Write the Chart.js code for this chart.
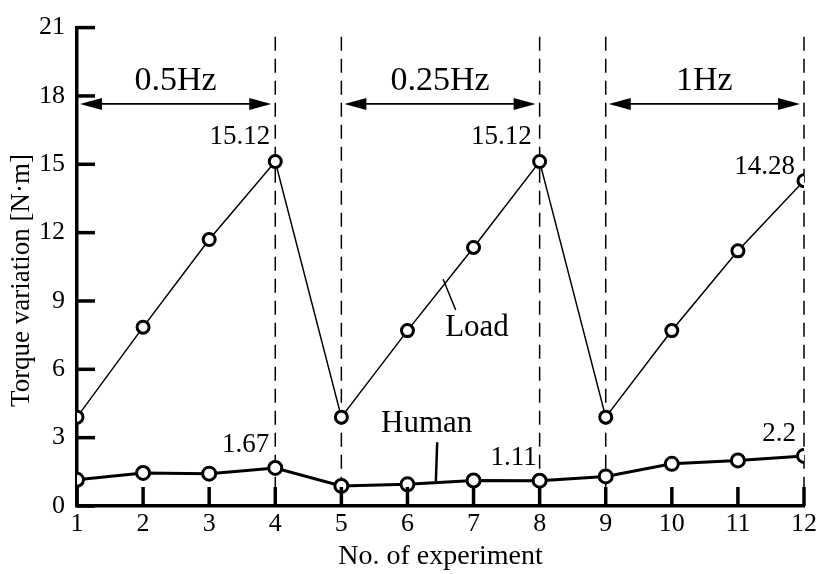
<!DOCTYPE html>
<html>
<head>
<meta charset="utf-8">
<script src="https://cdn.jsdelivr.net/npm/chart.js@4.4.1/dist/chart.umd.min.js"></script>
<style>
  body { margin: 0; background: #fff; }
  #wrap { width: 820px; height: 574px; }
</style>
</head>
<body>
<div id="wrap"><canvas id="graficoTorque"></canvas></div>
<script>
// Dados
const experimentos = [1, 2, 3, 4, 5, 6, 7, 8, 9, 10, 11, 12];
const torqueCarga = [3.9, 7.85, 11.7, 15.12, 3.9, 7.7, 11.35, 15.12, 3.9, 7.7, 11.2, 14.28];
const torqueHumano = [1.15, 1.45, 1.42, 1.67, 0.88, 0.95, 1.12, 1.11, 1.3, 1.85, 2.0, 2.2];
const ticksY = [0, 3, 6, 9, 12, 15, 18, 21];
const divisorias = [4, 5, 8, 9, 12];
const faixasInicio = [1, 5, 9];
const faixasFim = [4, 8, 12];
const faixasTexto = ['0.5Hz', '0.25Hz', '1Hz'];
const indicesRotulo = [3, 7, 11]; // pontos com valor escrito

const FONTE = "'Liberation Serif', 'Times New Roman', serif";

const anotacoes = {
    id: 'anotacoes',
    beforeDatasetsDraw(chart) {
        const { ctx, scales: { x, y } } = chart;
        // linhas tracejadas verticais
        ctx.save();
        ctx.strokeStyle = '#000';
        ctx.lineWidth = 1.5;
        ctx.setLineDash([14, 8]);
        divisorias.forEach(d => {
            const px = x.getPixelForValue(d);
            ctx.beginPath();
            ctx.moveTo(px, y.getPixelForValue(20.6));
            ctx.lineTo(px, y.getPixelForValue(0));
            ctx.stroke();
        });
        ctx.restore();
    },
    afterDraw(chart) {
        const { ctx, scales: { x, y } } = chart;
        const x0 = x.getPixelForValue(1);
        const y0 = y.getPixelForValue(0);
        ctx.save();
        ctx.strokeStyle = '#000';
        ctx.fillStyle = '#000';
        // título do eixo Y (desenhado à mão para acertar a posição)
        ctx.save();
        ctx.translate(22, y.getPixelForValue(9.9));
        ctx.rotate(-Math.PI / 2);
        ctx.font = '27px ' + FONTE;
        ctx.textAlign = 'center';
        ctx.textBaseline = 'middle';
        ctx.fillText('Torque variation [N·m]', 0, 0);
        ctx.restore();
        // ticks para dentro
        ctx.lineWidth = 3.5;
        ticksY.forEach(v => {
            const py = y.getPixelForValue(v);
            ctx.beginPath(); ctx.moveTo(x0, py); ctx.lineTo(x0 + 18, py); ctx.stroke();
        });
        experimentos.forEach(v => {
            const px = x.getPixelForValue(v);
            ctx.beginPath(); ctx.moveTo(px, y0); ctx.lineTo(px, y0 - 19); ctx.stroke();
        });
        // setas de frequência
        const ya = y.getPixelForValue(17.65);
        const yt = y.getPixelForValue(18.65);
        ctx.lineWidth = 1.8;
        ctx.font = '34px ' + FONTE;
        ctx.textAlign = 'center';
        ctx.textBaseline = 'middle';
        faixasTexto.forEach((texto, i) => {
            const a = x.getPixelForValue(faixasInicio[i]) + 3;
            const b = x.getPixelForValue(faixasFim[i]) - 4;
            ctx.beginPath(); ctx.moveTo(a + 10, ya); ctx.lineTo(b - 10, ya); ctx.stroke();
            ctx.beginPath(); ctx.moveTo(a, ya); ctx.lineTo(a + 22, ya - 6); ctx.lineTo(a + 22, ya + 6); ctx.closePath(); ctx.fill();
            ctx.beginPath(); ctx.moveTo(b, ya); ctx.lineTo(b - 22, ya - 6); ctx.lineTo(b - 22, ya + 6); ctx.closePath(); ctx.fill();
            ctx.fillText(texto, (a + b) / 2, yt);
        });
        // valores nos pontos
        ctx.font = '27px ' + FONTE;
        ctx.textAlign = 'right';
        const dyCarga = [-25, -25, -14];
        const dxCarga = [-5, -8, -9];
        const dyHumano = [-23, -23, -22];
        const dxHumano = [-6, -3, -8];
        indicesRotulo.forEach((idx, k) => {
            const px = x.getPixelForValue(experimentos[idx]);
            ctx.fillText(String(torqueCarga[idx]), px + dxCarga[k], y.getPixelForValue(torqueCarga[idx]) + dyCarga[k]);
            ctx.fillText(String(torqueHumano[idx]), px + dxHumano[k], y.getPixelForValue(torqueHumano[idx]) + dyHumano[k]);
        });
        // nomes das séries com linha de chamada
        ctx.font = '31px ' + FONTE;
        ctx.textAlign = 'left';
        ctx.fillText('Load', x.getPixelForValue(6.57), y.getPixelForValue(7.8));
        ctx.textAlign = 'center';
        ctx.fillText('Human', x.getPixelForValue(6.29), y.getPixelForValue(3.6));
        ctx.lineWidth = 1.5;
        ctx.beginPath();
        ctx.moveTo(x.getPixelForValue(6.54), y.getPixelForValue(9.95));
        ctx.lineTo(x.getPixelForValue(6.73), y.getPixelForValue(8.6));
        ctx.stroke();
        ctx.lineWidth = 2.5;
        ctx.beginPath();
        ctx.moveTo(x.getPixelForValue(6.45), y.getPixelForValue(2.8));
        ctx.lineTo(x.getPixelForValue(6.43), y.getPixelForValue(1.1));
        ctx.stroke();
        ctx.restore();
    }
};

const ctx = document.getElementById('graficoTorque').getContext('2d');
new Chart(ctx, {
    type: 'line',
    data: {
        datasets: [
            {
                label: 'Load',
                data: experimentos.map((e, i) => ({ x: e, y: torqueCarga[i] })),
                borderColor: '#000',
                borderWidth: 1.5,
                pointRadius: 6,
                pointBorderWidth: 3,
                pointBackgroundColor: '#fff',
                pointBorderColor: '#000',
                tension: 0
            },
            {
                label: 'Human',
                data: experimentos.map((e, i) => ({ x: e, y: torqueHumano[i] })),
                borderColor: '#000',
                borderWidth: 3,
                pointRadius: 6.5,
                pointBorderWidth: 3,
                pointBackgroundColor: '#fff',
                pointBorderColor: '#000',
                tension: 0
            }
        ]
    },
    options: {
        responsive: true,
        maintainAspectRatio: false,
        animation: false,
        layout: { padding: { top: 22, right: 15, bottom: 0, left: 0 } },
        plugins: {
            legend: { display: false },
            tooltip: { enabled: false }
        },
        scales: {
            x: {
                type: 'linear',
                min: 1,
                max: 12,
                afterBuildTicks: s => { s.ticks = experimentos.map(v => ({ value: v })); },
                afterFit: s => { s.height = 68; },
                grid: { display: false, drawTicks: false },
                border: { display: true, width: 3.5, color: '#000' },
                ticks: { color: '#000', padding: 3, font: { family: FONTE, size: 26 } },
                title: {
                    display: true,
                    text: 'No. of experiment',
                    color: '#000',
                    font: { family: FONTE, size: 28 },
                    padding: { top: 0, bottom: 1 }
                }
            },
            y: {
                min: 0,
                max: 21,
                afterBuildTicks: s => { s.ticks = ticksY.map(v => ({ value: v })); },
                afterFit: s => { s.width = 77; },
                grid: { display: false, drawTicks: false },
                border: { display: true, width: 3.5, color: '#000' },
                ticks: { color: '#000', padding: 12, font: { family: FONTE, size: 26 } },
                title: { display: false }
            }
        }
    },
    plugins: [anotacoes]
});
</script>
</body>
</html>
